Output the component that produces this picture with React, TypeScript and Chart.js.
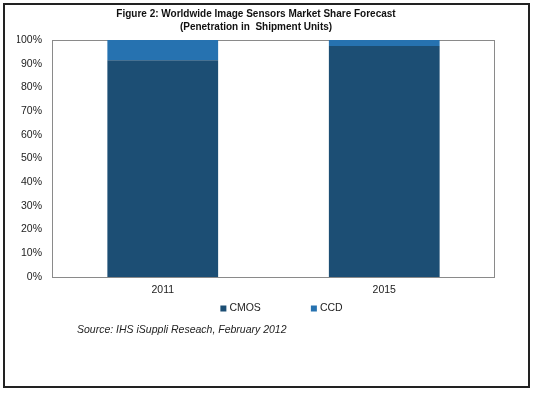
import React, { useEffect, useRef } from "react";
import { Chart, registerables } from "chart.js";

Chart.register(...registerables);

const categories = ["2011", "2015"];
const cmosShare = [91.5, 97.5];
const ccdShare = [8.5, 2.5];
const yTicks = [0, 10, 20, 30, 40, 50, 60, 70, 80, 90, 100];
const titleLines = ["Figure 2: Worldwide Image Sensors Market Share Forecast", "(Penetration in  Shipment Units)"];
const sourceText = "Source: IHS iSuppli Reseach, February 2012";

const FONT = "'Liberation Sans', Arial, sans-serif";
const DARK = "#1c4e74";
const LIGHT = "#2672b0";

export default function App() {
  const ref = useRef<HTMLCanvasElement | null>(null);
  useEffect(() => {
    if (!ref.current) return;
    const framePlugin = {
      id: "frame",
      beforeDatasetsDraw(chart: any) {
        const { ctx, chartArea } = chart;
        ctx.save();
        ctx.strokeStyle = "#8a8a8a";
        ctx.lineWidth = 1;
        ctx.strokeRect(chartArea.left + 0.5, chartArea.top + 0.5, chartArea.right - chartArea.left - 1, chartArea.bottom - chartArea.top);
        ctx.restore();
      },
      afterDraw(chart: any) {
        const { ctx, chartArea } = chart;
        ctx.save();
        ctx.font = `10.5px ${FONT}`;
        ctx.textBaseline = "middle";
        ctx.fillStyle = "#222";
        const items = chart.data.datasets.map((d: any) => ({ text: d.label, color: d.backgroundColor }));
        const box = 6;
        const gapText = 3;
        const gapItems = 50;
        const widths = items.map((it: any) => box + gapText + ctx.measureText(it.text).width);
        const total = widths.reduce((a: number, b: number) => a + b, 0) + gapItems * (items.length - 1);
        let x = (chartArea.left + chartArea.right) / 2 + 8 - total / 2;
        const y = chartArea.bottom + 31.5;
        items.forEach((it: any, i: number) => {
          ctx.fillStyle = it.color;
          ctx.fillRect(x, y - 3, box, box);
          ctx.fillStyle = "#222";
          ctx.fillText(it.text, x + box + gapText, y);
          x += widths[i] + gapItems;
        });
        ctx.font = `italic 10.5px ${FONT}`;
        ctx.fillStyle = "#222";
        ctx.fillText(sourceText, chartArea.left + 25, chartArea.bottom + 53);
        ctx.restore();
      },
    };
    const chart = new Chart(ref.current, {
      type: "bar",
      data: {
        labels: categories,
        datasets: [
          { label: "CMOS", data: cmosShare, backgroundColor: DARK, borderWidth: 0, categoryPercentage: 1, barPercentage: 0.5 },
          { label: "CCD", data: ccdShare, backgroundColor: LIGHT, borderWidth: 0, categoryPercentage: 1, barPercentage: 0.5 },
        ],
      },
      options: {
        animation: false,
        responsive: false,
        maintainAspectRatio: false,
        layout: { padding: { left: 17, right: 38, top: 0, bottom: 89.4 } },
        plugins: {
          legend: { display: false },
          tooltip: { enabled: false },
          title: {
            display: true,
            text: titleLines,
            color: "#111",
            font: { family: FONT, size: 10, weight: "bold", lineHeight: 1.3 },
            padding: { top: 7.5, bottom: 6.5 },
          },
        },
        scales: {
          x: {
            stacked: true,
            grid: { display: false, drawTicks: false },
            border: { display: false },
            ticks: { color: "#222", font: { family: FONT, size: 10.5 }, padding: 7 },
          },
          y: {
            stacked: true,
            min: 0,
            max: 100,
            afterFit(scale: any) {
              scale.width = 35;
            },
            afterBuildTicks(scale: any) {
              scale.ticks = yTicks.map((v) => ({ value: v }));
            },
            grid: { display: false, drawTicks: false },
            border: { display: false },
            ticks: {
              color: "#222",
              font: { family: FONT, size: 10.5 },
              padding: 10,
              callback: (v: any) => `${v}%`,
            },
          },
        },
      },
      plugins: [framePlugin],
    });
    return () => chart.destroy();
  }, []);
  return (
    <div style={{ position: "absolute", left: 0, top: 0, width: 533, height: 393, background: "#fff" }}>
      <div
        style={{
          position: "absolute",
          left: 3,
          top: 3,
          width: 527,
          height: 385,
          border: "2px solid #222",
          boxSizing: "border-box",
        }}
      />
      <canvas ref={ref} width={533} height={393} style={{ position: "absolute", left: 0, top: 0, width: 533, height: 393 }} />
    </div>
  );
}
